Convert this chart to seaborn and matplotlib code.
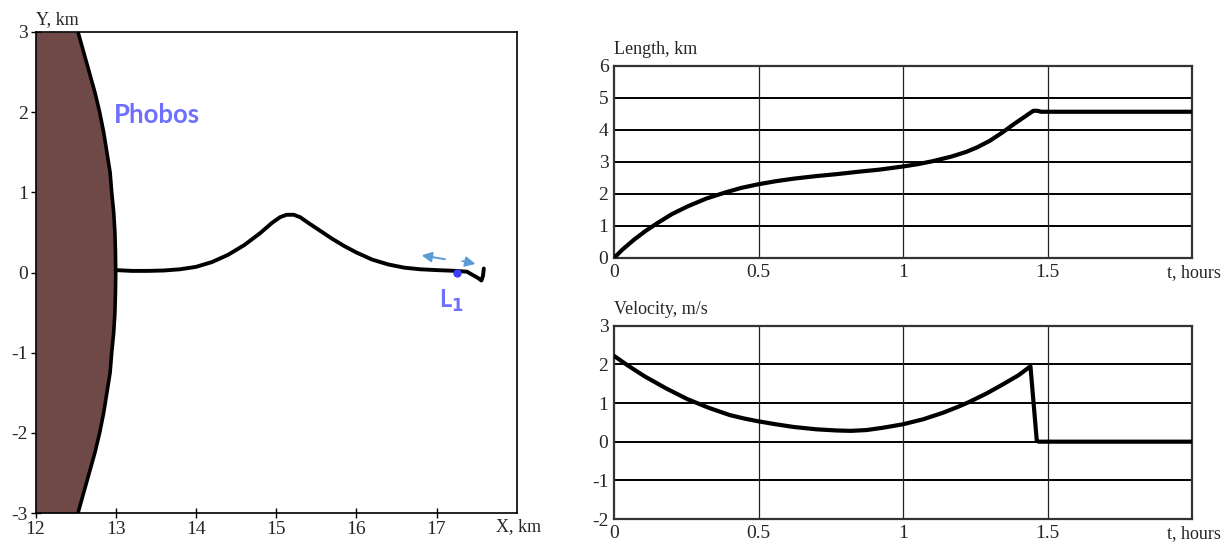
import numpy as np
import pandas as pd
import matplotlib
matplotlib.use("Agg")
import matplotlib.pyplot as plt
import seaborn as sns

# Phobos surface (x, km) sampled along y
surf_y = [-3.0, -2.75, -2.5, -2.25, -2.0, -1.75, -1.5, -1.25, -1.0, -0.75, -0.5, -0.25, 0.0,
          0.25, 0.5, 0.75, 1.0, 1.25, 1.5, 1.75, 2.0, 2.25, 2.5, 2.75, 3.0]
surf_x = [12.53, 12.60, 12.67, 12.74, 12.80, 12.85, 12.89, 12.93, 12.95, 12.975, 12.99, 12.997, 13.0,
          12.997, 12.99, 12.975, 12.95, 12.93, 12.89, 12.85, 12.80, 12.74, 12.67, 12.60, 12.53]

# tether / trajectory in the X-Y plane
traj_x = [13.00, 13.2, 13.4, 13.6, 13.8, 14.0, 14.2, 14.4, 14.6, 14.8, 14.95, 15.05, 15.13,
          15.22, 15.30, 15.40, 15.55, 15.7, 15.85, 16.0, 16.2, 16.4, 16.6, 16.8, 17.0,
          17.25, 17.38, 17.45, 17.52, 17.56, 17.58, 17.59]
traj_y = [0.03, 0.02, 0.02, 0.025, 0.04, 0.07, 0.13, 0.22, 0.34, 0.49, 0.62, 0.69, 0.72,
          0.72, 0.69, 0.62, 0.52, 0.42, 0.33, 0.25, 0.16, 0.10, 0.06, 0.04, 0.03,
          0.02, 0.01, -0.03, -0.07, -0.10, -0.04, 0.05]
l1_point = (17.25, 0.0)

# length vs time
len_t = [0.0, 0.03, 0.069, 0.11, 0.15, 0.2, 0.254, 0.32, 0.386, 0.44, 0.497, 0.56, 0.622,
         0.70, 0.77, 0.85, 0.917, 1.0, 1.05, 1.1, 1.168, 1.22, 1.257, 1.30, 1.345, 1.38,
         1.404, 1.43, 1.451, 1.465, 1.478, 2.0]
len_km = [0.0, 0.27, 0.57, 0.85, 1.09, 1.37, 1.61, 1.86, 2.05, 2.19, 2.30, 2.40, 2.48,
          2.56, 2.62, 2.70, 2.76, 2.86, 2.93, 3.02, 3.17, 3.32, 3.46, 3.66, 3.93, 4.16,
          4.31, 4.47, 4.60, 4.60, 4.57, 4.57]

# velocity vs time
vel_t = [0.0, 0.05, 0.106, 0.18, 0.254, 0.33, 0.40, 0.45, 0.497, 0.56, 0.622, 0.70, 0.77,
         0.82, 0.873, 0.93, 1.0, 1.07, 1.139, 1.19, 1.227, 1.29, 1.345, 1.40, 1.441,
         1.463, 1.47, 2.0]
vel_ms = [2.22, 1.96, 1.69, 1.38, 1.10, 0.87, 0.69, 0.60, 0.53, 0.45, 0.38, 0.32, 0.29,
          0.28, 0.30, 0.36, 0.45, 0.58, 0.75, 0.90, 1.02, 1.25, 1.48, 1.72, 1.95,
          0.02, 0.0, 0.0]

t_ticks = [0, 0.5, 1, 1.5]
t_labels = ["0", "0.5", "1", "1.5"]

sns.set_style("white")
plt.rcParams['font.family'] = ['Liberation Serif', 'DejaVu Serif']
plt.rcParams['font.size'] = 13
plt.rcParams['axes.unicode_minus'] = False

W, H = 1228, 546
fig = plt.figure(figsize=(W / 100, H / 100), dpi=100)

def box(x0, y0, x1, y1):
    return [x0 / W, (H - y1) / H, (x1 - x0) / W, (y1 - y0) / H]

# ---- left panel: trajectory near Phobos ----
ax = fig.add_axes(box(35.5, 32, 516.7, 513))
ax.fill_betweenx(surf_y, 12, surf_x, color='#6F4848', lw=0)
ax.plot(surf_x, surf_y, color='black', lw=2.6, solid_capstyle='round')
traj = pd.DataFrame({'x': traj_x, 'y': traj_y})
sns.lineplot(data=traj, x='x', y='y', sort=False, color='black', lw=2.8, ax=ax)
ax.plot(*l1_point, 'o', color='#3D3DFF', ms=5, zorder=5)
ax.annotate('', xy=(16.78, 0.22), xytext=(17.14, 0.16),
            arrowprops=dict(arrowstyle='-|>', color='#5B9BD5', lw=1.4, mutation_scale=15))
ax.annotate('', xy=(17.52, 0.10), xytext=(17.29, 0.15),
            arrowprops=dict(arrowstyle='-|>', color='#5B9BD5', lw=1.4, mutation_scale=15))
ax.text(12.98, 1.97, 'Phobos', color='#6E6EFF', fontsize=18.5, fontweight='bold',
        family='Lato', va='center', ha='left')
ax.text(17.18, -0.36, 'L$_\\mathbf{1}$', color='#6E6EFF', fontsize=17, fontweight='bold',
        family='Lato', va='center', ha='center')
ax.set_xlim(12, 18)
ax.set_ylim(-3, 3)
ax.set_xticks([12, 13, 14, 15, 16, 17])
ax.set_yticks([-3, -2, -1, 0, 1, 2, 3])
ax.tick_params(direction='inout', length=7, width=1, color='black', labelsize=14,
               left=True, bottom=True, pad=2)
ax.set_xlabel('')
ax.set_ylabel('')
for s in ax.spines.values():
    s.set_color('black')
    s.set_linewidth(1.2)
ax.text(0.0, 1.008, 'Y, km', transform=ax.transAxes, fontsize=13, ha='left', va='bottom')
ax.text(1.05, -0.01, 'X, km', transform=ax.transAxes, fontsize=13, ha='right', va='top')

# ---- right panels ----
def time_panel(rect, t, v, ylim, ylab):
    a = fig.add_axes(rect)
    df = pd.DataFrame({'t': t, 'v': v})
    sns.lineplot(data=df, x='t', y='v', sort=False, color='black', lw=3.0, ax=a, zorder=3)
    a.set_xlim(0, 2)
    a.set_ylim(*ylim)
    a.set_xticks(t_ticks)
    a.set_xticklabels(t_labels)
    a.set_yticks(range(ylim[0], ylim[1] + 1))
    for y in range(ylim[0] + 1, ylim[1]):
        a.axhline(y, color='black', lw=1.4, zorder=1)
    for x in t_ticks[1:]:
        a.axvline(x, color='#222222', lw=0.9, zorder=1)
    a.tick_params(length=0, labelsize=14, pad=4)
    a.set_xlabel('')
    a.set_ylabel('')
    for s in a.spines.values():
        s.set_color('#333333')
        s.set_linewidth(1.6)
    a.text(0.0, 1.04, ylab, transform=a.transAxes, fontsize=13, ha='left', va='bottom')
    a.text(1.05, -0.03, 't, hours', transform=a.transAxes, fontsize=13, ha='right', va='top')
    return a

time_panel(box(614, 66, 1192, 258), len_t, len_km, (0, 6), 'Length, km')
time_panel(box(614, 325.7, 1192, 519), vel_t, vel_ms, (-2, 3), 'Velocity, m/s')

fig.savefig('out.png', dpi=100)
